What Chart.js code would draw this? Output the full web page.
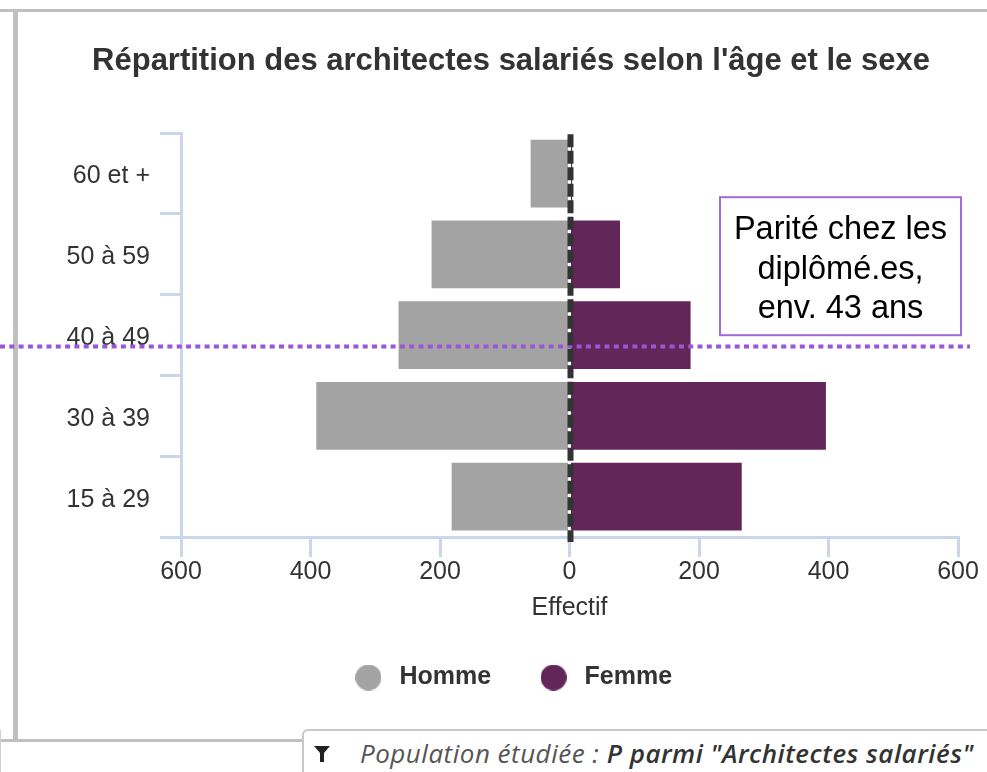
<!DOCTYPE html>
<html>
<head>
<meta charset="utf-8">
<script src="https://cdn.jsdelivr.net/npm/chart.js@4/dist/chart.umd.min.js"></script>
<style>
    html, body { margin: 0; padding: 0; width: 987px; height: 772px; overflow: hidden; background: #fff; }
    .line { position: absolute; background: #c0c0c0; }
    #chartBox { position: absolute; left: 0; top: 0; width: 1022px; height: 700px; }
    #filter {
        position: absolute; left: 302px; top: 729px; width: 720px; height: 60px;
        border: 2px solid #c8c8c8; border-radius: 6px; background: #fff; box-sizing: border-box;
        font-family: "Open Sans", sans-serif; font-style: italic; font-size: 26px; color: #555;
        letter-spacing: 0.5px; white-space: nowrap;
    }
    #filter svg { position: absolute; left: 10px; top: 15px; }
    #filter span.txt { position: absolute; left: 56px; top: 4px; }
    #filter b { color: #333; font-weight: 600; }
</style>
</head>
<body>
<div class="line" style="left:0;top:9px;width:987px;height:3px"></div>
<div class="line" style="left:13px;top:9px;width:5px;height:733px"></div>
<div class="line" style="left:0;top:739px;width:304px;height:3px"></div>
<div class="line" style="left:0;top:730px;width:1px;height:42px;background:#d0d0d0"></div>
<div id="chartBox"><canvas id="pyramid"></canvas></div>
<div id="filter">
    <svg width="16" height="16" viewBox="0 0 16 16"><path d="M0 0 H16 L10 7 V16 H6 V7 Z" fill="#222"/></svg>
    <span class="txt">Population étudiée : <b>P parmi "Architectes salariés"</b></span>
</div>
<script>
// age groups, top to bottom
const ageGroups = ['60 et +', '50 à 59', '40 à 49', '30 à 39', '15 à 29'];
const hommes = [60, 213, 264, 391, 182];
const femmes = [4, 78, 187, 396, 266];
const seriesNames = ['Homme', 'Femme'];
const seriesColors = ['#a3a3a3', '#632659'];
const axisMin = -600;
const axisMax = 600;
const axisStep = 200;
// parity level on the age axis (between 40 à 49 and 30 à 39, ~43 ans)
const parityLevel = 2.14;
const noteLines = ['Parité chez les', 'diplômé.es,', 'env. 43 ans'];

const FONT = '"Liberation Sans", Arial, sans-serif';
const AXIS_COLOR = '#ccd6eb';

// round legend markers, drawn once
function makeDot(color) {
    const c = document.createElement('canvas');
    c.width = 26;
    c.height = 26;
    const g = c.getContext('2d');
    g.fillStyle = color;
    g.beginPath();
    g.arc(13, 13, 13, 0, Math.PI * 2);
    g.fill();
    return c;
}
const legendDots = seriesColors.map(makeDot);

const pyramidMarks = {
    id: 'pyramidMarks',
    afterDatasetsDraw(chart) {
        const ctx = chart.ctx;
        const area = chart.chartArea;
        const x = chart.scales.x;
        const y = chart.scales.y;

        ctx.save();
        // parity line, dotted purple across the whole panel
        const py = y.getPixelForValue(parityLevel);
        ctx.strokeStyle = '#9b55d6';
        ctx.lineWidth = 4;
        ctx.setLineDash([5, 4.3]);
        ctx.beginPath();
        ctx.moveTo(0, py);
        ctx.lineTo(area.right + 12, py);
        ctx.stroke();

        // zero line, dashed
        const zx = x.getPixelForValue(0);
        ctx.strokeStyle = '#333';
        ctx.lineWidth = 6;
        ctx.setLineDash([13, 3.5]);
        ctx.beginPath();
        ctx.moveTo(zx + 1, area.top + 1);
        ctx.lineTo(zx + 1, area.bottom + 5);
        ctx.stroke();

        // note box
        ctx.setLineDash([]);
        const bx = area.right - 238, by = area.top + 64, bw = 241, bh = 138;
        ctx.fillStyle = '#fff';
        ctx.fillRect(bx, by, bw, bh);
        ctx.strokeStyle = '#a36bd9';
        ctx.lineWidth = 2;
        ctx.strokeRect(bx, by, bw, bh);
        ctx.fillStyle = '#000';
        ctx.font = '32.5px ' + FONT;
        ctx.textAlign = 'center';
        ctx.textBaseline = 'alphabetic';
        noteLines.forEach((t, i) => {
            ctx.fillText(t, bx + bw / 2, by + 42 + i * 39.5);
        });
        ctx.restore();
    }
};

new Chart(document.getElementById('pyramid'), {
    type: 'bar',
    data: {
        labels: ageGroups,
        datasets: [{
            label: seriesNames[0],
            data: hommes.map(v => -v),
            backgroundColor: seriesColors[0],
            barPercentage: 0.84,
            categoryPercentage: 1
        }, {
            label: seriesNames[1],
            data: femmes,
            backgroundColor: seriesColors[1],
            barPercentage: 0.84,
            categoryPercentage: 1
        }]
    },
    options: {
        indexAxis: 'y',
        responsive: true,
        maintainAspectRatio: false,
        animation: false,
        layout: { padding: { left: 64, right: 64, top: 0, bottom: 0 } },
        scales: {
            x: {
                min: axisMin,
                max: axisMax,
                stacked: true,
                ticks: {
                    stepSize: axisStep,
                    callback: v => Math.abs(v),
                    color: '#333',
                    padding: 3,
                    font: { family: FONT, size: 25, lineHeight: 1 }
                },
                grid: { drawOnChartArea: false, tickLength: 20, color: AXIS_COLOR, lineWidth: 3 },
                border: { color: AXIS_COLOR, width: 3 },
                title: {
                    display: true,
                    text: 'Effectif',
                    color: '#333',
                    font: { family: FONT, size: 25 },
                    padding: { top: 5, bottom: -2 }
                }
            },
            y: {
                stacked: true,
                offset: true,
                ticks: { color: '#333', padding: 10, labelOffset: 3, font: { family: FONT, size: 25 } },
                grid: { offset: true, drawOnChartArea: false, tickLength: 21, color: AXIS_COLOR, lineWidth: 3 },
                border: { color: AXIS_COLOR, width: 3 },
                afterFit: s => { s.width = 181 - 64; }
            }
        },
        plugins: {
            title: {
                display: true,
                text: 'Répartition des architectes salariés selon l\'âge et le sexe',
                color: '#333',
                font: { family: FONT, size: 31, weight: 'bold' },
                padding: { top: 43, bottom: 53 }
            },
            legend: {
                position: 'bottom',
                labels: {
                    usePointStyle: true,
                    pointStyleWidth: 37,
                    boxHeight: 25,
                    padding: 44,
                    color: '#333',
                    font: { family: FONT, size: 25, weight: 'bold' },
                    generateLabels: chart => Chart.defaults.plugins.legend.labels.generateLabels(chart)
                        .map((item, i) => Object.assign(item, { pointStyle: legendDots[i] }))
                }
            },
            tooltip: { enabled: false }
        }
    },
    plugins: [pyramidMarks]
});
</script>
</body>
</html>
